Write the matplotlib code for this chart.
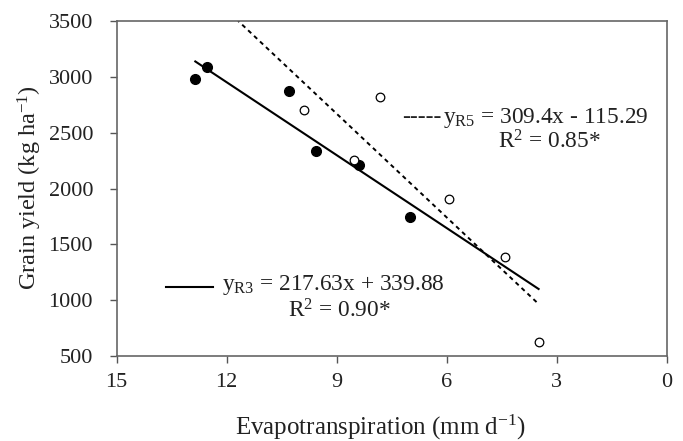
import matplotlib
matplotlib.use("Agg")
import matplotlib.pyplot as plt
import numpy as np

plt.rcParams['font.family'] = ['Liberation Serif', 'DejaVu Serif']
plt.rcParams['mathtext.fontset'] = 'custom'
plt.rcParams['mathtext.rm'] = 'Liberation Serif'
plt.rcParams['mathtext.it'] = 'Liberation Serif:italic'
plt.rcParams['mathtext.default'] = 'regular'

# Data
et_r3 = [12.86, 12.55, 10.29, 9.56, 8.39, 7.00]
yield_r3 = [2981, 3091, 2873, 2336, 2210, 1748]
et_r5 = [9.88, 7.82, 8.53, 5.93, 4.41, 3.47]
yield_r5 = [2703, 2822, 2255, 1906, 1387, 623]

# regression coefficients and drawn ranges
r3_slope, r3_intercept = 217.63, 339.88
r5_slope, r5_intercept = 309.4, -115.29
r3_range = [3.47, 12.88]
r5_range = [3.55, 11.69]

xticks = [15, 12, 9, 6, 3, 0]
yticks = [500, 1000, 1500, 2000, 2500, 3000, 3500]

W, H = 683, 441
TXT = '#222222'

fig = plt.figure(figsize=(6.83, 4.41), dpi=100)
ax = fig.add_axes([116.7 / W, 1 - 356 / H, 550 / W, 335 / H])

xr3 = np.array(r3_range)
xr5 = np.array(r5_range)
ax.plot(xr3, r3_slope * xr3 + r3_intercept, color='black', lw=1.5, solid_capstyle='butt')
ax.plot(xr5, r5_slope * xr5 + r5_intercept, color='black', lw=1.4, linestyle=(0, (2.2, 2.0)))

ax.plot(et_r3, yield_r3, 'o', color='black', markersize=7, linestyle='none')
ax.plot(et_r5, yield_r5, 'o', markerfacecolor='white', markeredgecolor='black',
        markersize=6.2, markeredgewidth=0.9, linestyle='none')

ax.set_xlim(15, 0)
ax.set_ylim(500, 3500)
ax.set_xticks(xticks)
ax.set_yticks(yticks)
ax.tick_params(direction='out', length=5, width=1, colors='#555555', labelcolor=TXT,
               labelsize=16)
ax.tick_params(axis='y', pad=12)
ax.tick_params(axis='x', pad=7.5)

for s in ax.spines.values():
    s.set_color('#666666')
    s.set_linewidth(1.2)

fig.text(381 / W, 1 - 435 / H, 'Evapotranspiration (mm d$^{-1}$)', fontsize=18, color=TXT,
         ha='center', va='baseline')
fig.text(30 / W, 1 - 188 / H, 'Grain yield (kg ha$^{-1}$)', fontsize=17.5, color=TXT,
         ha='center', va='center', rotation=90)

# R5 annotation
fig.text(402 / W, 1 - 123 / H, '-----', fontsize=16.8, va='baseline', ha='left', color=TXT)
fig.text(443 / W, 1 - 123 / H, 'y$_{R5}$ = 309.4x - 115.29', fontsize=16.8, va='baseline',
         ha='left', color=TXT)
fig.text(498 / W, 1 - 148 / H, 'R$^{2}$ = 0.85*', fontsize=16.8, va='baseline', ha='left',
         color=TXT)

# R3 annotation
fig.add_artist(plt.Line2D([166 / W, 213 / W], [1 - 287 / H, 1 - 287 / H],
                          color='black', lw=1.5, transform=fig.transFigure))
fig.text(222 / W, 1 - 290 / H, 'y$_{R3}$ = 217.63x + 339.88', fontsize=16.8, va='baseline',
         ha='left', color=TXT)
fig.text(288 / W, 1 - 318 / H, 'R$^{2}$ = 0.90*', fontsize=16.8, va='baseline', ha='left',
         color=TXT)

fig.savefig('out.png', dpi=100)
